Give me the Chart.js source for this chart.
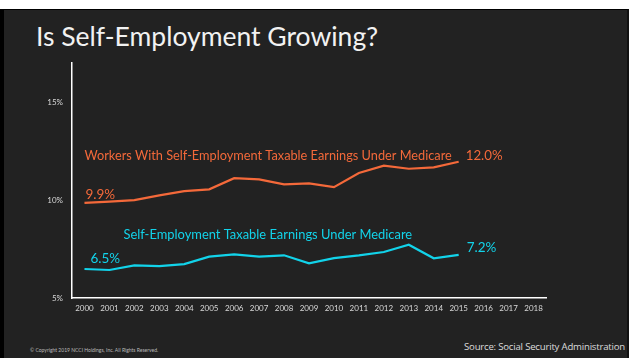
<!DOCTYPE html>
<html>
<head>
<meta charset="utf-8">
<script src="https://cdn.jsdelivr.net/npm/chart.js@4"></script>
<style>
  html, body { margin: 0; padding: 0; background: #fff; }
  #slide {
    position: absolute; left: 0; top: 9px; width: 623px; height: 348px;
    background: #222222; border-left: 4px solid #000; border-right: 2px solid #111; border-top: 1px solid #000;
    overflow: hidden; font-family: Lato, "Open Sans", sans-serif;
  }
  #title { position: absolute; left: 32px; top: 10px; color: #f2f2f2; font-size: 26.5px; white-space: nowrap; }
  #copy { position: absolute; left: 26px; top: 337px; color: #bbb; font-size: 5px; white-space: nowrap; }
  #source { position: absolute; left: 460px; top: 330px; color: #dcdcdc; font-size: 9.6px; font-family: "Open Sans", sans-serif; white-space: nowrap; letter-spacing: -0.2px; }
  #wrap { position: absolute; left: 0; top: 0; width: 629px; height: 358px; }
</style>
</head>
<body>
<div id="slide">
  <div id="title">Is Self-Employment Growing?</div>
  <div id="copy">© Copyright 2019 NCCI Holdings, Inc. All Rights Reserved.</div>
  <div id="source">Source: Social Security Administration</div>
</div>
<div id="wrap"><canvas id="chart" width="629" height="358"></canvas></div>
<script>
const years = ['2000','2001','2002','2003','2004','2005','2006','2007','2008','2009',
               '2010','2011','2012','2013','2014','2015','2016','2017','2018'];
// workers with self-employment taxable earnings under medicare (%)
const workersSE = [9.86, 9.92, 10.0, 10.24, 10.46, 10.55, 11.12, 11.06, 10.8, 10.85,
                   10.66, 11.38, 11.76, 11.6, 11.67, 11.96];
// self-employment taxable earnings under medicare (%)
const earningsSE = [6.48, 6.43, 6.67, 6.63, 6.73, 7.11, 7.23, 7.11, 7.18, 6.77,
                    7.04, 7.18, 7.35, 7.72, 7.03, 7.2];
const yTicks = [5, 10, 15];

const orange = '#f4693a';
const cyan = '#12d3ea';

// text labels placed next to the lines
const lineLabels = [
  { text: 'Workers With Self-Employment Taxable Earnings Under Medicare', x: 0, dx: 0, y: 12.25, color: orange, size: 12.75 },
  { text: '12.0%', x: 15, dx: 7, y: 12.25, color: orange, size: 13.3 },
  { text: '9.9%', x: 0, dx: 1, y: 10.3, color: orange, size: 13.5 },
  { text: 'Self-Employment Taxable Earnings Under Medicare', x: 0, dx: 39, y: 8.2, color: cyan, size: 12.9 },
  { text: '6.5%', x: 0, dx: 6, y: 7.0, color: cyan, size: 13.5 },
  { text: '7.2%', x: 15, dx: 8, y: 7.57, color: cyan, size: 13.5 }
];

const labelPlugin = {
  id: 'lineLabels',
  afterDatasetsDraw(chart) {
    const { ctx, scales } = chart;
    ctx.save();
    ctx.textBaseline = 'middle';
    ctx.textAlign = 'left';
    lineLabels.forEach(l => {
      ctx.fillStyle = l.color;
      ctx.font = l.size + 'px Lato, "Open Sans", sans-serif';
      ctx.fillText(l.text, scales.x.getPixelForValue(l.x) + l.dx, scales.y.getPixelForValue(l.y));
    });
    ctx.restore();
  }
};

new Chart(document.getElementById('chart'), {
  type: 'line',
  data: {
    labels: years,
    datasets: [
      { data: workersSE, borderColor: orange, borderWidth: 2.2, pointRadius: 0, tension: 0 },
      { data: earningsSE, borderColor: cyan, borderWidth: 2.2, pointRadius: 0, tension: 0 }
    ]
  },
  options: {
    responsive: false,
    animation: false,
    layout: { padding: { top: 63, right: 83, left: 0, bottom: 0 } },
    plugins: { legend: { display: false }, tooltip: { enabled: false } },
    scales: {
      x: {
        offset: true,
        grid: { display: false, drawTicks: false },
        border: { color: '#ffffff', width: 1.5 },
        ticks: { color: '#d9d9d9', font: { size: 8, family: 'Lato' }, padding: 6, maxRotation: 0, autoSkip: false },
        afterFit: s => { s.height = 60; }
      },
      y: {
        min: 5, max: 17,
        grid: { display: false, drawTicks: false },
        border: { color: '#ffffff', width: 1.5 },
        afterBuildTicks: s => { s.ticks = yTicks.map(v => ({ value: v })); },
        ticks: { color: '#d9d9d9', font: { size: 8, family: 'Lato' }, padding: 9, callback: v => v + '%' },
        afterFit: s => { s.width = 72; }
      }
    }
  },
  plugins: [labelPlugin]
});
</script>
</body>
</html>
